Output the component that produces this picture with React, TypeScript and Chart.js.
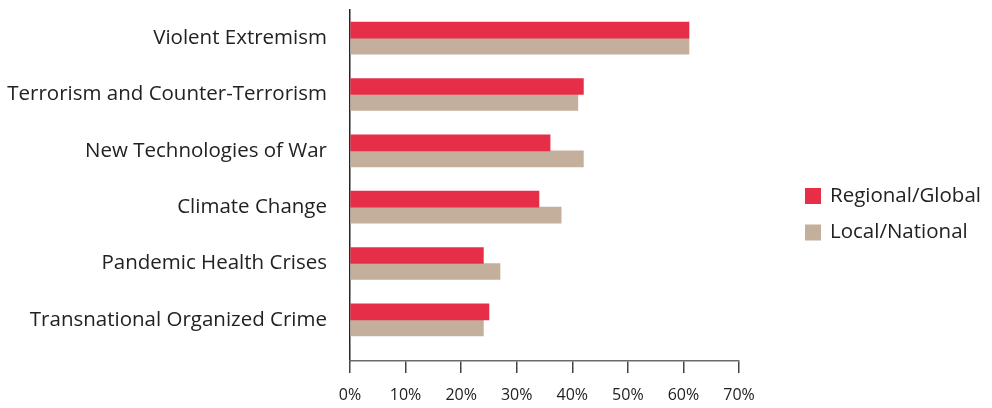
import React, { useEffect, useRef } from "react";
import { Chart, registerables } from "chart.js";

Chart.register(...registerables);

const categories = [
  "Violent Extremism",
  "Terrorism and Counter-Terrorism",
  "New Technologies of War",
  "Climate Change",
  "Pandemic Health Crises",
  "Transnational Organized Crime",
];
const regionalGlobal = [61, 42, 36, 34, 24, 25];
const localNational = [61, 41, 42, 38, 27, 24];
const seriesLabels = ["Regional/Global", "Local/National"];
const seriesColors = ["#E62E48", "#C4AF9D"];
const xTicks = [0, 10, 20, 30, 40, 50, 60, 70];

const FONT = "'Open Sans', sans-serif";
const TEXT = "#222222";
const Y_AXIS = "#262626";
const X_AXIS = "#6a6a6a";

const legendPlugin = {
  id: "sideLegend",
  afterDraw(chart: any) {
    const ctx = chart.ctx;
    ctx.save();
    chart.data.datasets.forEach((ds: any, i: number) => {
      const y = 188 + i * 36.5;
      ctx.fillStyle = ds.backgroundColor;
      ctx.fillRect(805, y, 16, 16);
      ctx.fillStyle = TEXT;
      ctx.font = `20.5px ${FONT}`;
      ctx.textBaseline = "middle";
      ctx.textAlign = "left";
      ctx.fillText(ds.label, 830, y + 8);
    });
    ctx.restore();
  },
};

export default function App() {
  const ref = useRef<HTMLCanvasElement>(null);
  useEffect(() => {
    document.body.style.margin = "0";
    const seriesData = [regionalGlobal, localNational].map((vals) =>
      vals.map((v, i) => ({ x: v, y: i }))
    );
    const chart = new Chart(ref.current!, {
      type: "bar",
      data: {
        datasets: seriesData.map((d, k) => ({
          label: seriesLabels[k],
          data: d,
          backgroundColor: seriesColors[k],
          barThickness: 16,
          borderWidth: 0,
        })),
      },
      plugins: [legendPlugin],
      options: {
        indexAxis: "y",
        animation: false,
        responsive: true,
        maintainAspectRatio: false,
        layout: { padding: { left: 0, right: 253, top: 10, bottom: 0 } },
        plugins: {
          legend: { display: false },
          tooltip: { enabled: false },
        },
        scales: {
          y: {
            type: "linear",
            reverse: true,
            offset: false,
            min: -0.5,
            max: 5.73,
            grid: { display: false, drawTicks: false, tickLength: 0, offset: false },
            border: { display: true, color: Y_AXIS, width: 1.5 },
            afterBuildTicks: (scale: any) => {
              scale.ticks = categories.map((_, i) => ({ value: i }));
            },
            afterFit: (scale: any) => {
              scale.width = 350;
              scale.paddingTop = 0;
              scale.paddingBottom = 0;
            },
            ticks: {
              autoSkip: false,
              padding: 23,
              color: TEXT,
              font: { family: FONT, size: 20.5 },
              callback: (v: any) => categories[v] ?? "",
            },
          },
          x: {
            type: "linear",
            min: 0,
            max: 70,
            grid: {
              display: true,
              drawOnChartArea: false,
              drawTicks: true,
              tickLength: 12,
              color: "#444444",
              lineWidth: 1.5,
            },
            border: { display: true, color: X_AXIS, width: 1.5 },
            afterBuildTicks: (scale: any) => {
              scale.ticks = xTicks.map((v) => ({ value: v }));
            },
            afterFit: (scale: any) => {
              scale.height = 47;
            },
            ticks: {
              padding: 13,
              color: TEXT,
              font: { family: FONT, size: 16 },
              callback: (v: any) => `${v}%`,
            },
          },
        },
      },
    } as any);
    return () => chart.destroy();
  }, []);
  return (
    <div style={{ position: "absolute", left: 0, top: 0, width: 992, height: 408 }}>
      <canvas ref={ref} />
    </div>
  );
}
